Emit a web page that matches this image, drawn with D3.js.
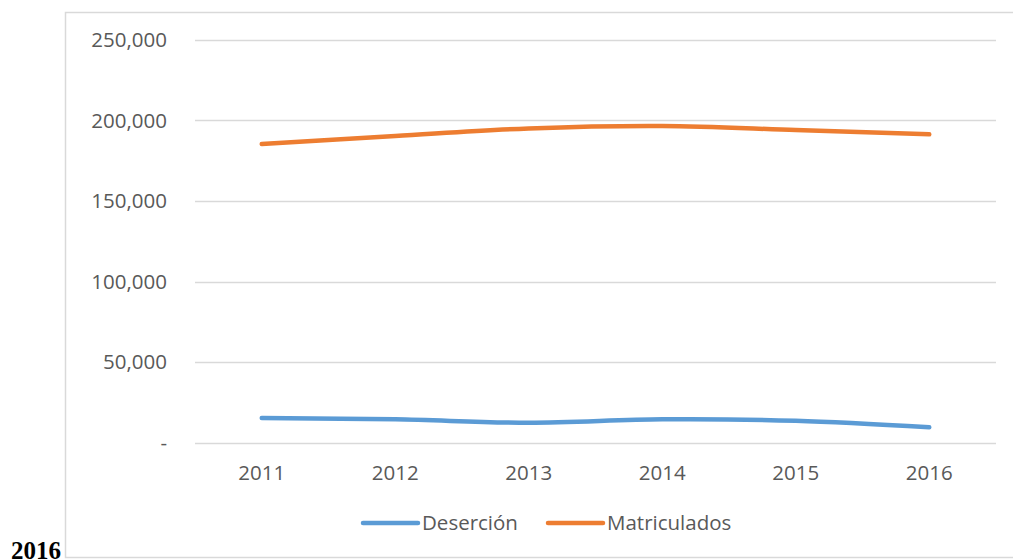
<!DOCTYPE html>
<html>
<head>
<meta charset="utf-8">
<script src="https://cdn.jsdelivr.net/npm/d3@7"></script>
<style>
  body { margin: 0; background: #fff; }
  svg { display: block; }
</style>
</head>
<body>
<div id="chart"></div>
<script>
// data
var years = ['2011', '2012', '2013', '2014', '2015', '2016'];
var desercion = [15200, 14400, 12300, 14400, 13500, 9400];
var matriculados = [185400, 190400, 195100, 196600, 194100, 191400];
var yTicks = [0, 50000, 100000, 150000, 200000, 250000];
var seriesNames = ['Deserción', 'Matriculados'];
var colors = ['#5B9BD5', '#ED7D31'];

var W = 1013, H = 560;
var svg = d3.select('#chart').append('svg')
  .attr('width', W)
  .attr('height', H);

// chart frame (top + left + bottom)
svg.append('path')
  .attr('d', 'M1013,12.5 H65.5 V557.5 H1013')
  .attr('fill', 'none')
  .attr('stroke', '#D9D9D9')
  .attr('stroke-width', 1.5);

var x = d3.scalePoint()
  .domain(years)
  .range([195, 996])
  .padding(0.5);

var y = d3.scaleLinear()
  .domain([0, 250000])
  .range([442.5, 40]);

// gridlines
svg.append('g')
  .selectAll('line')
  .data(yTicks)
  .enter()
  .append('line')
  .attr('x1', 195)
  .attr('x2', 996)
  .attr('y1', function(d) { return Math.round(y(d)) + 0.5; })
  .attr('y2', function(d) { return Math.round(y(d)) + 0.5; })
  .attr('stroke', '#D9D9D9')
  .attr('stroke-width', 1.5);

// y labels
var fmt = d3.format(',');
svg.append('g')
  .selectAll('text')
  .data(yTicks)
  .enter()
  .append('text')
  .attr('x', 167)
  .attr('y', function(d) { return y(d) + 7; })
  .attr('text-anchor', 'end')
  .attr('font-family', 'Open Sans')
  .attr('font-size', 20.5)
  .attr('fill', '#595959')
  .text(function(d) { return d === 0 ? '-' : fmt(d); });

// x labels
svg.append('g')
  .selectAll('text')
  .data(years)
  .enter()
  .append('text')
  .attr('x', function(d) { return x(d); })
  .attr('y', 480)
  .attr('text-anchor', 'middle')
  .attr('font-family', 'Open Sans')
  .attr('font-size', 20.5)
  .attr('fill', '#595959')
  .text(function(d) { return d; });

// lines
var line = d3.line()
  .x(function(d, i) { return x(years[i]); })
  .y(function(d) { return y(d); })
  .curve(d3.curveCatmullRom.alpha(0.5));

[desercion, matriculados].forEach(function(vals, i) {
  svg.append('path')
    .datum(vals)
    .attr('d', line)
    .attr('fill', 'none')
    .attr('stroke', colors[i])
    .attr('stroke-width', 4.5)
    .attr('stroke-linecap', 'round')
    .attr('stroke-linejoin', 'round');
});

// legend
var legendX = [363, 548];
seriesNames.forEach(function(name, i) {
  var g = svg.append('g');
  g.append('line')
    .attr('x1', legendX[i])
    .attr('x2', legendX[i] + 55)
    .attr('y1', 523)
    .attr('y2', 523)
    .attr('stroke', colors[i])
    .attr('stroke-width', 4.5)
    .attr('stroke-linecap', 'round');
  g.append('text')
    .attr('x', legendX[i] + 59)
    .attr('y', 530)
    .attr('font-family', 'Open Sans')
    .attr('font-size', 20.5)
    .attr('fill', '#595959')
    .text(name);
});

// stray caption from the source document
svg.append('text')
  .attr('x', 11)
  .attr('y', 559)
  .attr('font-family', 'Liberation Serif')
  .attr('font-weight', 'bold')
  .attr('font-size', 25)
  .attr('fill', '#000')
  .text('2016');
</script>
</body>
</html>
